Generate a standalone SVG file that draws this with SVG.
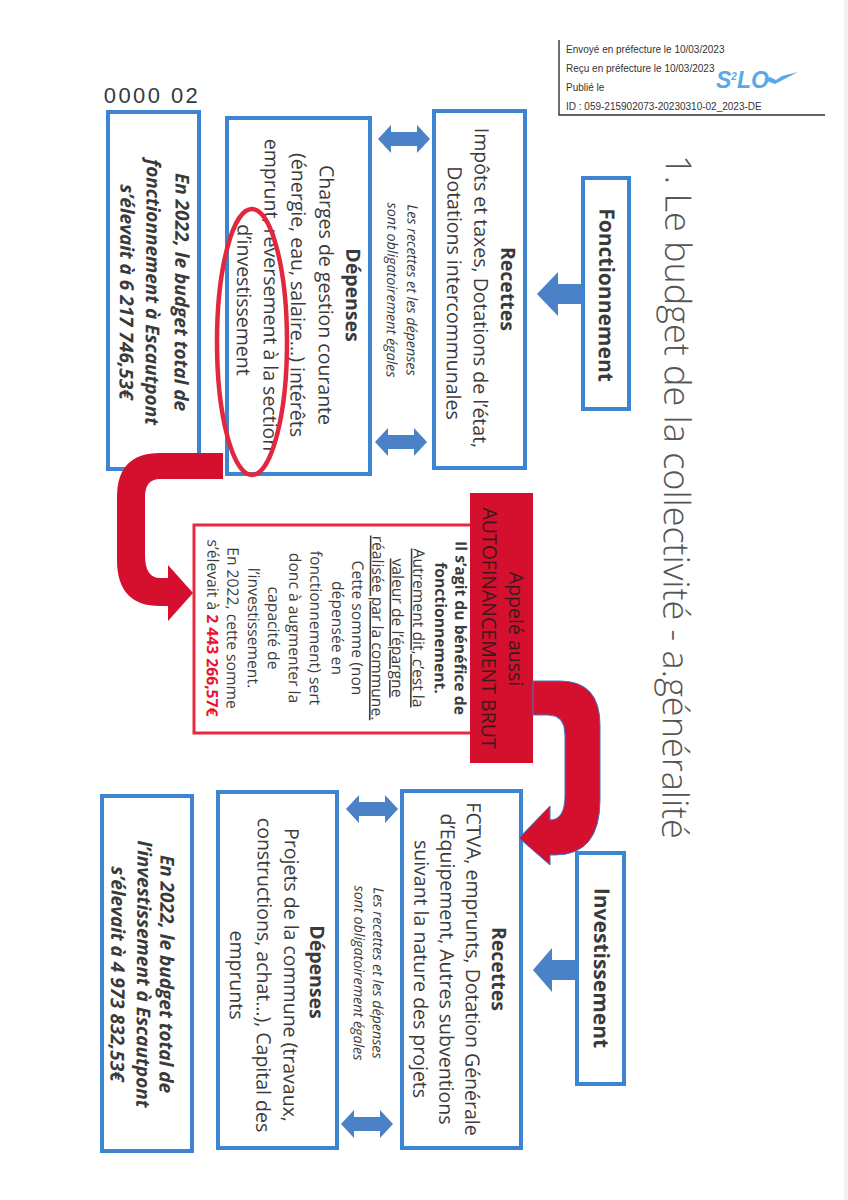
<svg xmlns="http://www.w3.org/2000/svg" width="848" height="1200" viewBox="0 0 848 1200">
<style>
text{font-family:"Open Sans","Noto Sans","Liberation Sans",sans-serif;fill:#3a3a3a;text-anchor:middle}
.b{font-size:19.5px}
.h{font-size:19.5px;font-weight:700}
.n{font-size:14.3px;font-style:italic}
.t{font-size:19px;font-weight:700;font-style:italic}
.r{font-size:15.7px}
.box{fill:#fff;stroke:#3d85d0;stroke-width:4}
.s{font-family:"Liberation Sans",Arial,sans-serif;font-size:10px;text-anchor:start;fill:#333}
.ar{fill:#4a81c7}
</style>
<defs>
<path id="dbl" d="M-26,0 L-13,-14 L-13,-7 L13,-7 L13,-14 L26,0 L13,14 L13,7 L-13,7 L-13,14 Z"/>
</defs>
<rect width="848" height="1200" fill="#fff"/>
<rect x="844" y="0" width="4" height="1200" fill="#f1f1f1"/>
<g id="title"><text transform="translate(677 497) rotate(90.3)" dy="13" style="font-size:36px;font-weight:300;fill:#555">1. Le budget de la collectivité - a.généralité</text></g>
<g id="stamp">
<path d="M559,40V115H825" fill="#fff" stroke="#333" stroke-width="1.4"/>
<text class="s" x="566" y="53">Envoyé en préfecture le 10/03/2023</text>
<text class="s" x="566" y="72">Reçu en préfecture le 10/03/2023</text>
<text class="s" x="566" y="91">Publié le</text>
<text class="s" x="566" y="110">ID : 059-215902073-20230310-02_2023-DE</text>
<text x="716" y="88" style="font-family:'Liberation Sans',sans-serif;font-size:23px;font-weight:700;font-style:italic;text-anchor:start;fill:#5aa9e6">S<tspan dy="-8" font-size="10">2</tspan><tspan dy="8">LO</tspan></text>
<path d="M764,80 L775,84 L798,72 L782,76 L776,80 L770,77 Z" fill="#5aa9e6"/>
</g>
<g id="ref"><text x="152" y="103" style="font-family:'Liberation Sans',sans-serif;font-size:22px;fill:#333a44;letter-spacing:2.4px">0000 02</text></g>

<g id="connectors">
<path class="ar" d="M583,284 H558 V272 L537,294 L558,316 V304 H583 Z"/>
<path class="ar" d="M576,960 H552 V948 L533,970 L552,992 V980 H576 Z"/>
<use href="#dbl" class="ar" transform="translate(404 139)"/>
<use href="#dbl" class="ar" transform="translate(401 442)"/>
<use href="#dbl" class="ar" transform="translate(372 809)"/>
<use href="#dbl" class="ar" transform="translate(367 1124)"/>
</g>

<g id="fonctionnement"><rect class="box" x="583" y="178" width="46" height="231"/>
<text class="h" transform="translate(599 295) rotate(90.3)" style="font-size:21px">Fonctionnement</text></g>
<g id="recettes-f"><rect class="box" x="434" y="111" width="91" height="357"/>
<text class="h" transform="translate(501 289) rotate(90.3)">Recettes</text>
<text class="b" transform="translate(474 288) rotate(90.3)">Impôts et taxes, Dotations de l’état,</text>
<text class="b" transform="translate(447 293) rotate(90.3)">Dotations intercommunales</text></g>
<g id="note-f">
<text class="n" transform="translate(407 290) rotate(90.3)">Les recettes et les dépenses</text>
<text class="n" transform="translate(387 290) rotate(90.3)">sont obligatoirement égales</text></g>
<g id="depenses-f"><rect class="box" x="227" y="118" width="143" height="356"/>
<text class="h" transform="translate(346 295) rotate(90.3)">Dépenses</text>
<text class="b" transform="translate(319 295) rotate(90.3)">Charges de gestion courante</text>
<text class="b" transform="translate(291 295) rotate(90.3)">(énergie, eau, salaire...) intérêts</text>
<text class="b" transform="translate(264 295) rotate(90.3)">emprunt, reversement à la section</text>
<text class="b" transform="translate(237 300) rotate(90.3)">d’investissement</text></g>
<g id="total-f"><rect class="box" x="108" y="112" width="91" height="357"/>
<text class="t" transform="translate(175 292) rotate(90.3)">En 2022, le budget total de</text>
<text class="t" transform="translate(146 292) rotate(90.3)">fonctionnement à Escautpont</text>
<text class="t" transform="translate(120 292) rotate(90.3)">s’élevait à 6 217 746,53€</text></g>

<g id="autofinancement">
<rect x="194" y="525" width="278" height="208" fill="#fff" stroke="#e8283c" stroke-width="3"/>
<rect x="470" y="493" width="63" height="270" fill="#d5102e"/>
<text class="b" transform="translate(509 629) rotate(90.3)" style="fill:#3a1a1a">Appelé aussi</text>
<text class="b" transform="translate(482 628) rotate(90.3)" style="fill:#3a1a1a">AUTOFINANCEMENT BRUT</text>
<text class="r" transform="translate(455 628) rotate(90.3)" font-weight="700">Il s’agit du bénéfice de</text>
<text class="r" transform="translate(435 628) rotate(90.3)" font-weight="700">fonctionnement.</text>
<text class="r" transform="translate(413 628) rotate(90.3)" text-decoration="underline">Autrement dit, c’est la</text>
<text class="r" transform="translate(392 628) rotate(90.3)" text-decoration="underline">valeur de l’épargne</text>
<text class="r" transform="translate(372 628) rotate(90.3)" text-decoration="underline">réalisée par la commune.</text>
<text class="r" transform="translate(352 628) rotate(90.3)">Cette somme (non</text>
<text class="r" transform="translate(332 628) rotate(90.3)">dépensée en</text>
<text class="r" transform="translate(310 628) rotate(90.3)">fonctionnement) sert</text>
<text class="r" transform="translate(289 628) rotate(90.3)">donc à augmenter la</text>
<text class="r" transform="translate(268 628) rotate(90.3)">capacité de</text>
<text class="r" transform="translate(248 628) rotate(90.3)">l’investissement.</text>
<text class="r" transform="translate(227 628) rotate(90.3)">En 2022, cette somme</text>
<text class="r" transform="translate(207 628) rotate(90.3)">s’élevait à <tspan font-weight="700" style="fill:#e8142f">2 443 266,57€</tspan></text>
</g>

<g id="investissement"><rect class="box" x="577" y="853" width="47" height="231"/>
<text class="h" transform="translate(594 968) rotate(90.3)" style="font-size:21px">Investissement</text></g>
<g id="recettes-i"><rect class="box" x="402" y="791" width="119" height="357"/>
<text class="h" transform="translate(492 969) rotate(90.3)">Recettes</text>
<text class="b" transform="translate(466 969) rotate(90.3)">FCTVA, emprunts, Dotation Générale</text>
<text class="b" transform="translate(440 969) rotate(90.3)">d’Equipement, Autres subventions</text>
<text class="b" transform="translate(414 969) rotate(90.3)">suivant la nature des projets</text></g>
<g id="note-i">
<text class="n" transform="translate(373 973) rotate(90.3)">Les recettes et les dépenses</text>
<text class="n" transform="translate(354 973) rotate(90.3)">sont obligatoirement égales</text></g>
<g id="depenses-i"><rect class="box" x="218" y="792" width="119" height="356"/>
<text class="h" transform="translate(310 972) rotate(90.3)">Dépenses</text>
<text class="b" transform="translate(284 975) rotate(90.3)">Projets de la commune (travaux,</text>
<text class="b" transform="translate(257 975) rotate(90.3)">constructions, achat…), Capital des</text>
<text class="b" transform="translate(230 975) rotate(90.3)">emprunts</text></g>
<g id="total-i"><rect class="box" x="102" y="796" width="90" height="355"/>
<text class="t" transform="translate(160 974) rotate(90.3)">En 2022, le budget total de</text>
<text class="t" transform="translate(137 974) rotate(90.3)">l’investissement à Escautpont</text>
<text class="t" transform="translate(111 974) rotate(90.3)">s’élevait à 4 973 832,53€</text></g>

<g id="red-arrows">
<path fill="#d5102e" d="M223,453 L160,453 Q117,453 117,497 L117,560 Q117,606 160,606 L168,606 L168,621 L193,593 L168,565 L168,578 L160,578 Q145,578 145,555 L145,497 Q145,479 160,479 L223,479 Z"/>
<path fill="#d5102e" stroke="#3d78c8" stroke-width="1" d="M533,681 L560,681 Q600,681 600,725 L600,800 Q600,855 555,855 L550,855 L550,865 L519,838 L550,806 L550,820 Q565,820 565,795 L565,735 Q565,715 548,715 L533,715 Z"/>
</g>
<ellipse id="circle" cx="252" cy="342" rx="35" ry="133" fill="none" stroke="#e2283f" stroke-width="4.5"/>
</svg>
